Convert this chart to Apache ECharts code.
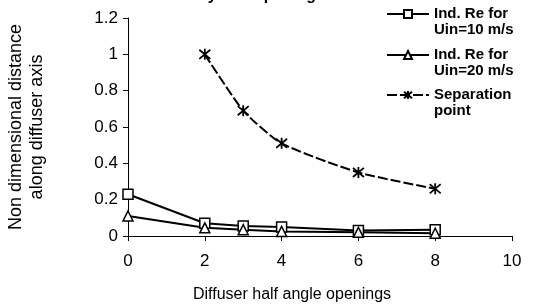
<!DOCTYPE html>
<html>
<head>
<meta charset="utf-8">
<script src="https://cdn.jsdelivr.net/npm/echarts@6/dist/echarts.min.js"></script>
<style>
  html, body { margin: 0; padding: 0; background: #fff; }
  #chart { width: 536px; height: 304px; }
</style>
</head>
<body>
<div id="chart"></div>
<script>
// half angle openings (deg)
const angles = [0, 2, 3, 4, 6, 8];
const re10 = [0.23, 0.07, 0.055, 0.05, 0.03, 0.035];
const re20 = [0.11, 0.045, 0.035, 0.025, 0.02, 0.015];
const sepAngles = [2, 3, 4, 6, 8];
const separation = [1.0, 0.69, 0.51, 0.35, 0.26];

const names = ['Ind. Re for\nUin=10 m/s', 'Ind. Re for\nUin=20 m/s', 'Separation\npoint'];

const pairs = (xs, ys) => xs.map((x, i) => [x, ys[i]]);

const font = '"Liberation Sans", Arial, sans-serif';
const asterisk = 'path://M0,0 L10,10 M10,0 L0,10 M5,-1 L5,11';

// blank first line so the icon lines up with the first text line
const makeLegend = (name, top) => ({
  data: [name],
  left: 386,
  top: top,
  padding: 0,
  itemWidth: 42,
  itemHeight: 10,
  formatter: n => ' \n' + n,
  textStyle: {
    fontFamily: font,
    fontWeight: 'bold',
    fontSize: 15,
    color: '#000',
    lineHeight: 16
  }
});

const chart = echarts.init(document.getElementById('chart'));

chart.setOption({
  animation: false,
  title: {
    text: 'Variation by half openings',
    right: 206,
    top: -17,
    textStyle: { fontFamily: font, fontWeight: 'bold', fontSize: 16, color: '#000' }
  },
  legend: [
    makeLegend(names[0], -10),
    makeLegend(names[1], 31),
    makeLegend(names[2], 71)
  ],
  grid: {
    left: 128,
    right: 24,
    top: 18,
    bottom: 68,
    outerBoundsMode: 'none'
  },
  xAxis: {
    type: 'value',
    min: 0,
    max: 10,
    interval: 2,
    name: 'Diffuser half angle openings',
    nameLocation: 'middle',
    nameGap: 51,
    nameTextStyle: { fontFamily: font, fontSize: 16, color: '#000', padding: [0, 56, 0, 0] },
    axisLine: { lineStyle: { color: '#000', width: 1 } },
    axisTick: { length: 5, lineStyle: { color: '#000' } },
    axisLabel: { fontFamily: font, fontSize: 17, color: '#000', margin: 17 },
    splitLine: { show: false }
  },
  yAxis: {
    type: 'value',
    min: 0,
    max: 1.2,
    interval: 0.2,
    name: 'Non dimensional distance\nalong diffuser axis',
    nameLocation: 'middle',
    nameGap: 80,
    nameTextStyle: { fontFamily: font, fontSize: 18, color: '#000', lineHeight: 21 },
    axisLine: { show: true, lineStyle: { color: '#000', width: 1 } },
    axisTick: { show: true, length: 5, lineStyle: { color: '#000' } },
    axisLabel: { fontFamily: font, fontSize: 17, color: '#000', margin: 10 },
    splitLine: { show: false }
  },
  series: [
    {
      name: names[0],
      type: 'line',
      data: pairs(angles, re10),
      symbol: 'rect',
      symbolSize: 10,
      lineStyle: { color: '#000', width: 2 },
      itemStyle: { color: '#fff', borderColor: '#000', borderWidth: 1.5 }
    },
    {
      name: names[1],
      type: 'line',
      data: pairs(angles, re20),
      symbol: 'triangle',
      symbolSize: 10,
      lineStyle: { color: '#000', width: 2 },
      itemStyle: { color: '#fff', borderColor: '#000', borderWidth: 1.5 }
    },
    {
      name: names[2],
      type: 'line',
      data: pairs(sepAngles, separation),
      smooth: 0.2,
      symbol: asterisk,
      symbolSize: 11,
      lineStyle: { color: '#000', width: 2, type: [10, 3] },
      itemStyle: { color: '#000', borderColor: '#000', borderWidth: 1.8 }
    }
  ]
});
</script>
</body>
</html>
